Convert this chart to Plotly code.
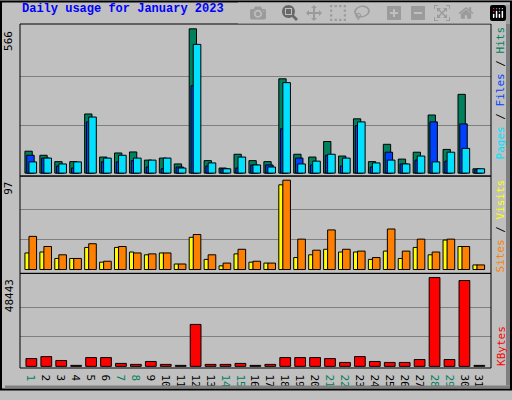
import plotly.graph_objects as go

days = list(range(1, 32))
weekend = {1, 7, 8, 14, 15, 21, 22, 28, 29}

hits = [86, 70, 45, 45, 232, 63, 79, 83, 51, 59, 36, 566, 49, 20, 74, 49,
        45, 370, 74, 63, 124, 67, 213, 45, 113, 55, 82, 228, 93, 309, 17]
files = [70, 59, 28, 20, 201, 44, 44, 49, 24, 17, 24, 343, 28, 17, 20, 32,
         32, 174, 59, 32, 70, 28, 186, 24, 82, 36, 51, 201, 47, 193, 13]
pages = [44, 59, 36, 44, 220, 59, 70, 59, 51, 59, 20, 505, 40, 17, 63, 32,
         24, 355, 36, 47, 74, 59, 201, 40, 51, 36, 67, 44, 82, 97, 17]
visits = [18, 19, 12, 12, 24, 8, 24, 19, 16, 18, 6, 35, 11, 4, 17, 8,
          7, 92, 13, 16, 22, 19, 19, 11, 20, 12, 24, 16, 32, 25, 5]
sites = [36, 25, 16, 12, 28, 9, 25, 18, 17, 18, 6, 38, 16, 7, 22, 9,
         7, 97, 33, 21, 43, 22, 20, 13, 44, 20, 33, 19, 33, 25, 5]
kbytes = [4259, 5323, 3194, 530, 4791, 4791, 1597, 1065, 2662, 1065, 530,
          22890, 1065, 1065, 1597, 530, 1065, 4791, 4791, 4791, 4259, 2129,
          5323, 2662, 2129, 2129, 3726, 48443, 3726, 46846, 530]

MAX_HITS, MAX_SITES, MAX_KB = 566, 97, 48443
line = dict(color="black", width=1)

fig = go.Figure()


def bar(y, color, off, w, axis):
    fig.add_trace(go.Bar(x=days, y=y, marker=dict(color=color, line=line),
                         offset=off, width=w, yaxis=axis, xaxis="x",
                         hoverinfo="y"))


bar(hits, "#00805c", -0.54, 0.49, "y")
bar(files, "#0040ff", -0.42, 0.5, "y")
bar(pages, "#00e0ff", -0.27, 0.51, "y")
bar(visits, "#ffff00", -0.54, 0.29, "y2")
bar(sites, "#ff8000", -0.27, 0.51, "y2")
bar(kbytes, "#ff0000", -0.47, 0.72, "y3")

ticktext = [f"<span style='color:#00805c'>{d}</span>" if d in weekend else str(d)
            for d in days]

grid = dict(showgrid=True, gridcolor="#808080", gridwidth=1,
            showticklabels=False, zeroline=False, ticks="")

fig.update_layout(
    width=512, height=400,
    margin=dict(l=20, r=21, t=24, b=23),
    paper_bgcolor="#c0c0c0", plot_bgcolor="#c0c0c0",
    barmode="overlay", showlegend=False,
    font=dict(family="DejaVu Sans Mono", size=11, color="black"),
    xaxis=dict(range=[0.13, 31.67], tickvals=days, ticktext=ticktext,
               anchor="y3", showgrid=False, zeroline=False, ticks="",
               tickfont=dict(size=11)),
    yaxis=dict(domain=[0.558, 1], range=[-11.5, 585],
               tickvals=[MAX_HITS / 3, 2 * MAX_HITS / 3], **grid),
    yaxis2=dict(domain=[0.275, 0.558], range=[-4.2, 101.5],
                tickvals=[MAX_SITES / 3, 2 * MAX_SITES / 3], **grid),
    yaxis3=dict(domain=[0, 0.275], range=[-900, 50730],
                tickvals=[MAX_KB / 3, 2 * MAX_KB / 3], **grid),
)

shapes = [
    # outer frame and shadow
    dict(type="rect", xref="paper", yref="paper", x0=-19 / 471, x1=1 + 20 / 471,
         y0=-22 / 353, y1=1 + 23 / 353, line=dict(color="black", width=2)),
    dict(type="rect", xref="paper", yref="paper", x0=486 / 471, x1=490 / 471,
         y0=-18 / 353, y1=1 + 20 / 353, fillcolor="#808080", line_width=0),
    dict(type="rect", xref="paper", yref="paper", x0=-15 / 471, x1=490 / 471,
         y0=-21 / 353, y1=-18 / 353, fillcolor="#808080", line_width=0),
]
# panel borders
for y0, y1 in [(0.558, 1), (0.275, 0.558), (0, 0.275)]:
    shapes.append(dict(type="rect", xref="paper", yref="paper", x0=0, x1=1,
                       y0=y0, y1=y1, line=dict(color="black", width=1)))
fig.update_layout(shapes=shapes)

ann = [
    dict(text="<b>Daily usage for January 2023</b>", x=0, y=1.045,
         xref="paper", yref="paper", xanchor="left", yanchor="middle",
         showarrow=False, font=dict(color="#0000ff", size=12, family="Liberation Mono")),
    dict(text=str(MAX_HITS), x=-0.005, y=MAX_HITS, xref="paper", yref="y",
         textangle=-90, xanchor="right", yanchor="top", showarrow=False),
    dict(text=str(MAX_SITES), x=-0.005, y=MAX_SITES, xref="paper", yref="y2",
         textangle=-90, xanchor="right", yanchor="top", showarrow=False),
    dict(text=str(MAX_KB), x=-0.005, y=MAX_KB, xref="paper", yref="y3",
         textangle=-90, xanchor="right", yanchor="top", showarrow=False),
    dict(text="<span style='color:#00e0ff'>Pages</span> / "
              "<span style='color:#0040ff'>Files</span> / "
              "<span style='color:#00805c'>Hits</span>",
         x=1.003, y=1, xref="paper", yref="paper", textangle=-90,
         xanchor="left", yanchor="top", showarrow=False),
    dict(text="<span style='color:#ff8000'>Sites</span> / "
              "<span style='color:#ffff00'>Visits</span>",
         x=1.003, y=0.555, xref="paper", yref="paper", textangle=-90,
         xanchor="left", yanchor="top", showarrow=False),
    dict(text="<span style='color:#ff0000'>KBytes</span>",
         x=1.003, y=0, xref="paper", yref="paper", textangle=-90,
         xanchor="left", yanchor="bottom", showarrow=False),
]
fig.update_layout(annotations=ann)

fig.write_html("out.html",
               post_script="document.body.style.margin='0';document.body.style.overflow='hidden';")
